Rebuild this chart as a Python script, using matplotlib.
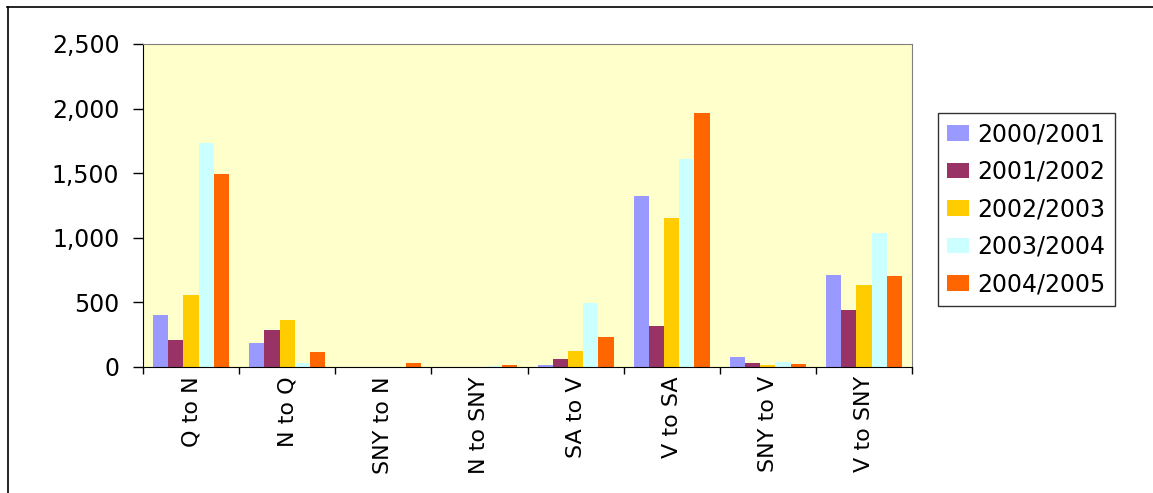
import matplotlib.pyplot as plt
import numpy as np
from matplotlib.lines import Line2D

plt.rcParams['font.family'] = ['DejaVu Sans']

# categories and series
routes = ['Q to N', 'N to Q', 'SNY to N', 'N to SNY', 'SA to V', 'V to SA', 'SNY to V', 'V to SNY']
years = ['2000/2001', '2001/2002', '2002/2003', '2003/2004', '2004/2005']
y2000 = [400, 180, 0, 0, 8, 1325, 70, 710]
y2001 = [205, 280, 0, 0, 62, 312, 31, 435]
y2002 = [555, 357, 0, 0, 124, 1150, 8, 630]
y2003 = [1735, 31, 0, 5, 489, 1610, 33, 1035]
y2004 = [1495, 116, 31, 10, 225, 1965, 23, 705]
series = [y2000, y2001, y2002, y2003, y2004]
colors = ['#9999FF', '#993366', '#FFCC00', '#CCFFFF', '#FF6600']

fig = plt.figure(figsize=(11.53, 4.93), dpi=100)
ax = fig.add_axes([143 / 1153, 1 - 366.5 / 493, (912 - 143) / 1153, (366.5 - 44) / 493])
ax.set_facecolor('#FFFFCC')

x = np.arange(len(routes))
w = 0.158
for i, (vals, c) in enumerate(zip(series, colors)):
    ax.bar(x + (i - 2) * w, vals, width=w, color=c, label=years[i], zorder=2)

ax.set_xlim(-0.5, len(routes) - 0.5)
ax.set_ylim(0, 2500)
ax.set_yticks([0, 500, 1000, 1500, 2000, 2500])
ax.set_yticklabels(['0', '500', '1,000', '1,500', '2,000', '2,500'], fontsize=17)
ax.tick_params(axis='y', length=7, width=1, pad=10)

# ticks between categories, labels at centres
ax.set_xticks(np.arange(-0.5, len(routes)), minor=False)
ax.set_xticklabels([])
ax.tick_params(axis='x', which='major', length=5, width=1)
ax.set_xticks(x, minor=True)
ax.set_xticklabels(routes, minor=True, rotation=90, fontsize=16)
ax.tick_params(axis='x', which='minor', length=0, pad=7)

for s in ['top', 'right']:
    ax.spines[s].set_color('#808080')
for s in ['left', 'bottom']:
    ax.spines[s].set_color('black')

leg = fig.legend(loc='upper left', bbox_to_anchor=(938 / 1153, 1 - 113 / 493),
                 fontsize=17, frameon=True, fancybox=False, edgecolor='black',
                 handlelength=0.93, handleheight=0.64, handletextpad=0.35,
                 labelspacing=0.57, borderpad=0.4, borderaxespad=0)
leg.get_frame().set_linewidth(1)

# chart border (top and left visible)
fig.add_artist(Line2D([7 / 1153, 1], [1 - 7 / 493, 1 - 7 / 493], color='black', lw=1.2))
fig.add_artist(Line2D([7.5 / 1153, 7.5 / 1153], [0, 1 - 7 / 493], color='black', lw=1.2))

fig.savefig('out.png', dpi=100)
